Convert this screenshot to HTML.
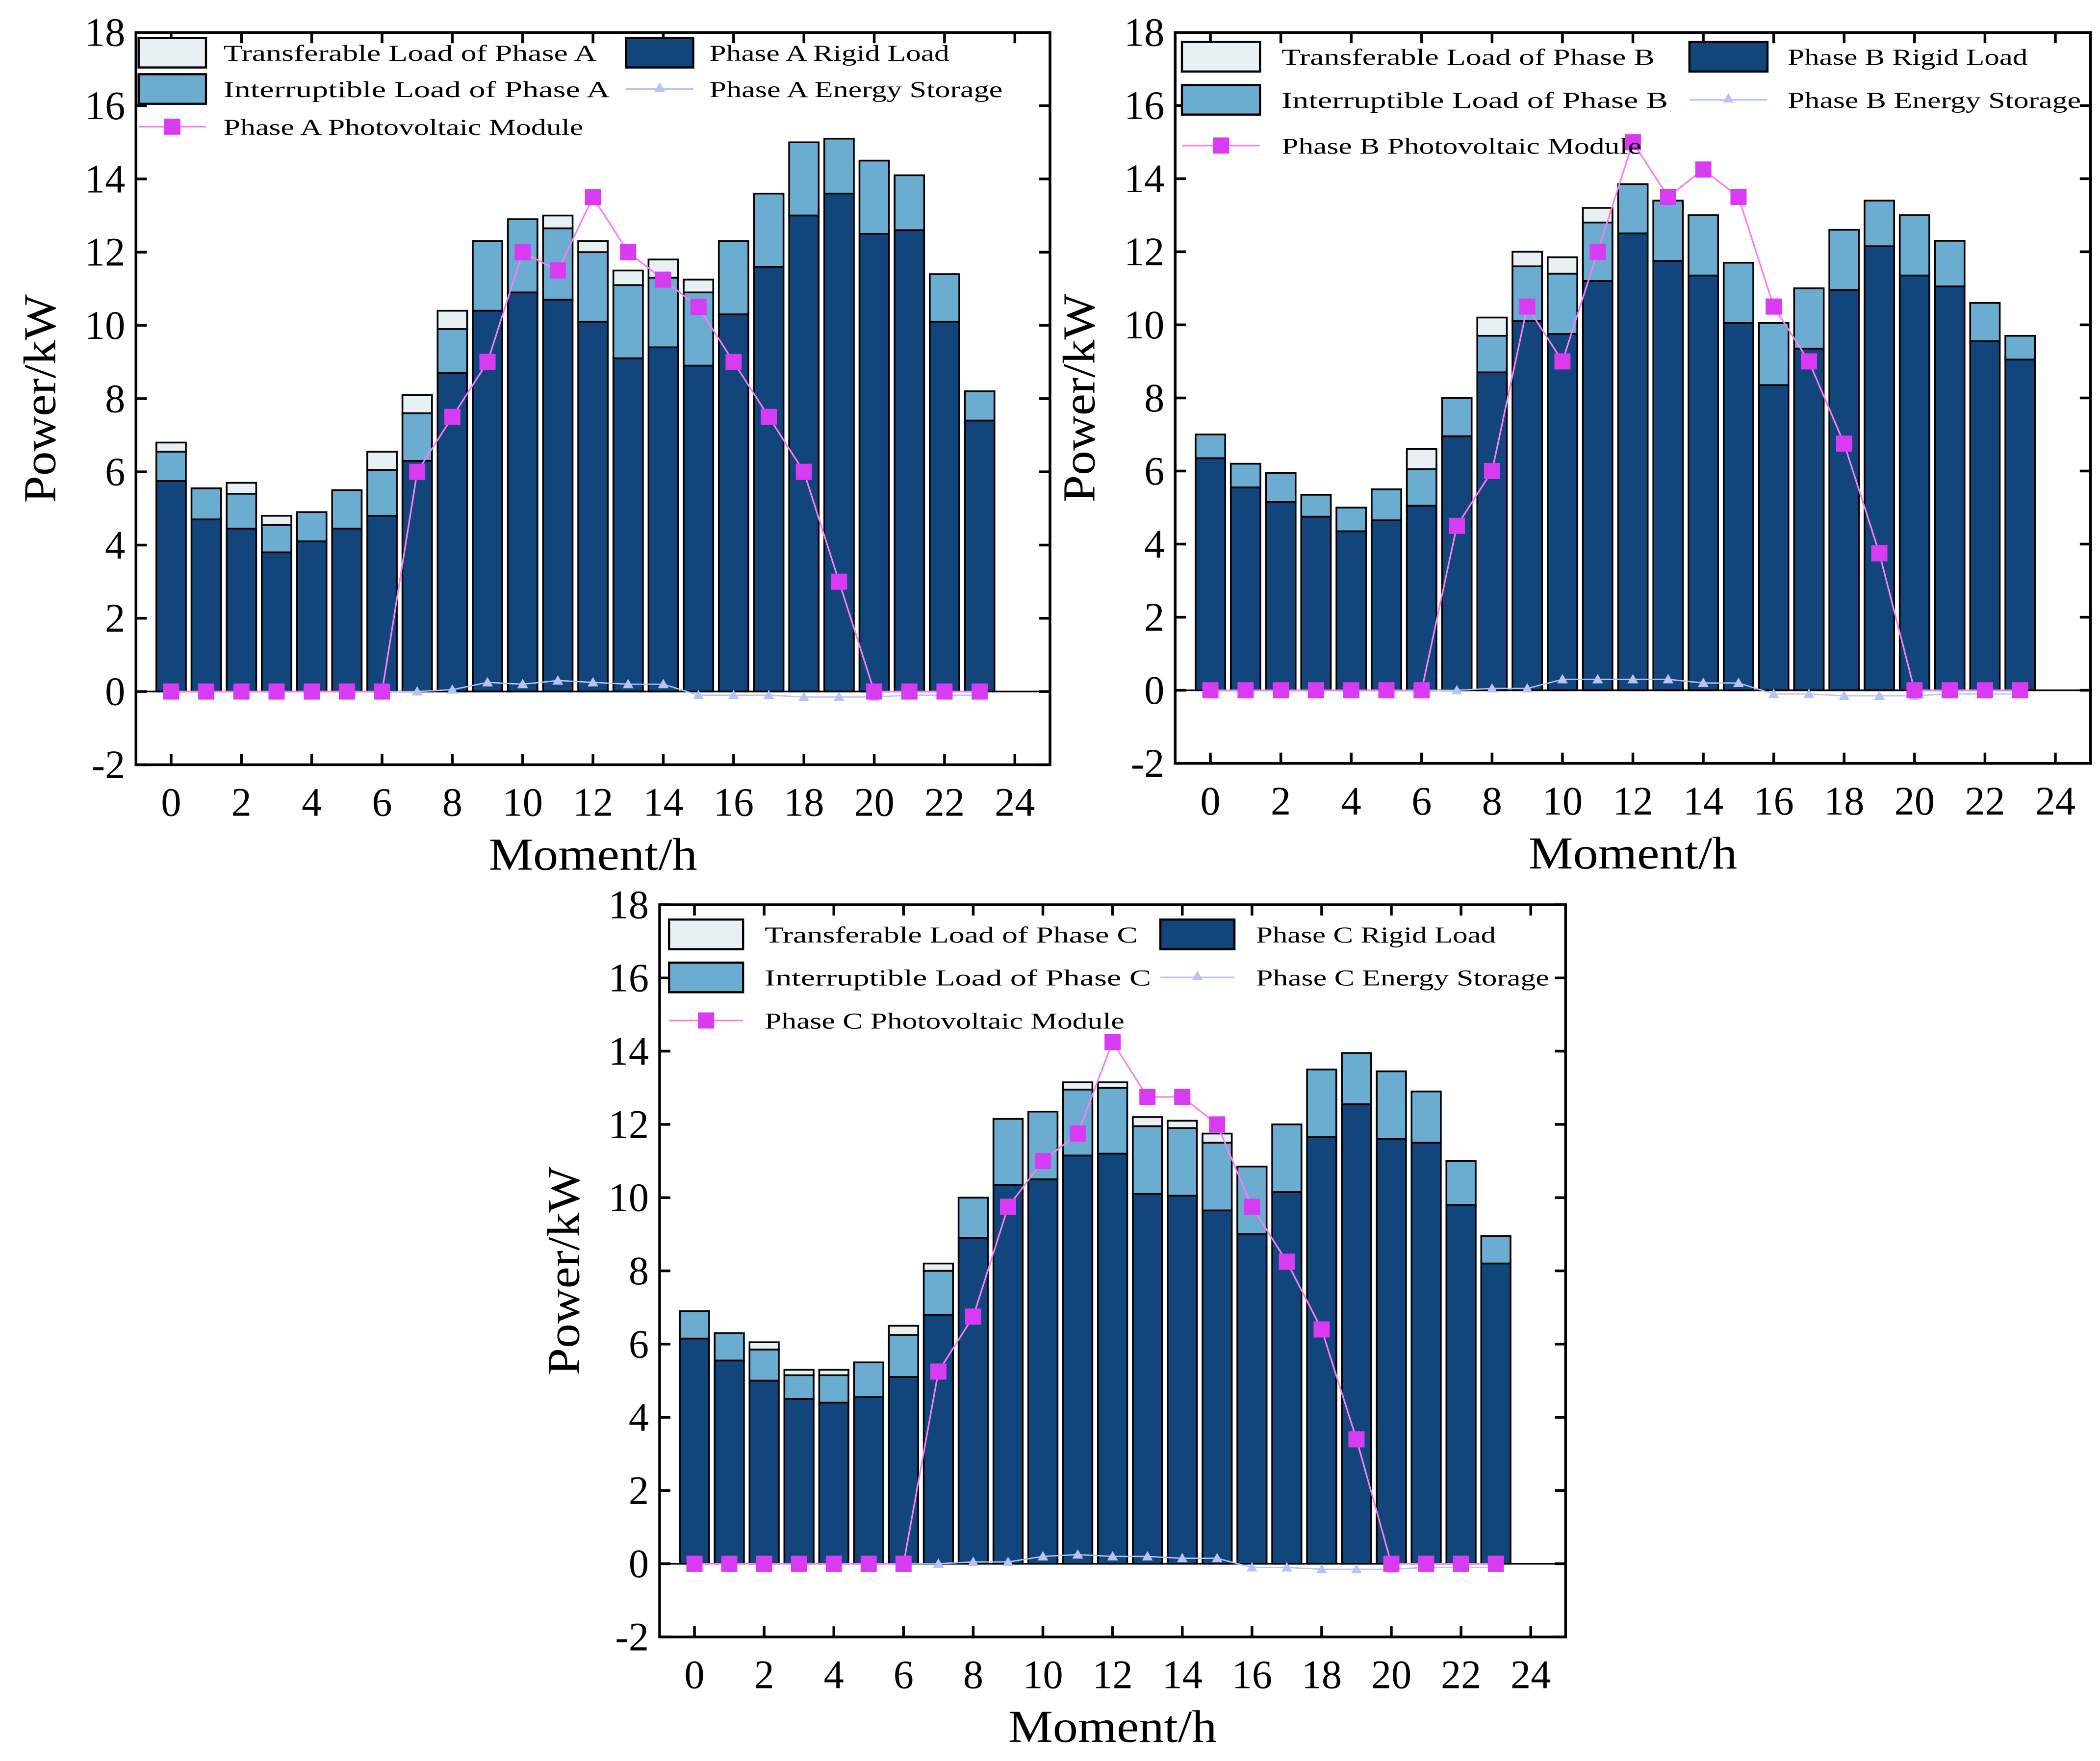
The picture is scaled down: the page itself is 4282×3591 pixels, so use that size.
<!DOCTYPE html>
<html><head><meta charset="utf-8"><style>
html,body{margin:0;padding:0;background:#fff}
svg{display:block}
text{font-family:"Liberation Serif","Noto Serif CJK SC",serif;fill:#000}
</style></head><body>
<svg id="root" xmlns="http://www.w3.org/2000/svg" width="4282" height="3591" viewBox="0 0 1560 1308"></svg>
<script>
const hours = [0,1,2,3,4,5,6,7,8,9,10,11,12,13,14,15,16,17,18,19,20,21,22,23];
const yTicks = [-2,0,2,4,6,8,10,12,14,16,18];
const xTicks = [0,2,4,6,8,10,12,14,16,18,20,22,24];
// Phase A
const rigidA = [5.75,4.7,4.45,3.8,4.1,4.45,4.8,6.3,8.7,10.4,10.9,10.7,10.1,9.1,9.4,8.9,10.3,11.6,13.0,13.6,12.5,12.6,10.1,7.4];
const interA = [6.55,5.55,5.4,4.55,4.9,5.5,6.05,7.6,9.9,12.3,12.9,12.65,12.0,11.1,11.3,10.9,12.3,13.6,15.0,15.1,14.5,14.1,11.4,8.2];
const totalA = [6.8,5.55,5.7,4.8,4.9,5.5,6.55,8.1,10.4,12.3,12.9,13.0,12.3,11.5,11.8,11.25,12.3,13.6,15.0,15.1,14.5,14.1,11.4,8.2];
const pvA = [0,0,0,0,0,0,0,6,7.5,9,12,11.5,13.5,12,11.25,10.5,9,7.5,6,3,0,0,0,0];
const storA = [0,0,0,0,0,0,0,0,0.05,0.25,0.2,0.3,0.25,0.2,0.2,-0.1,-0.1,-0.1,-0.15,-0.15,-0.15,-0.1,-0.1,-0.1];
// Phase B
const rigidB = [6.35,5.55,5.15,4.75,4.35,4.65,5.05,6.95,8.7,10.1,9.75,11.2,12.5,11.75,11.35,10.05,8.35,9.35,10.95,12.15,11.35,11.05,9.55,9.05];
const interB = [7.0,6.2,5.95,5.35,5.0,5.5,6.05,8.0,9.7,11.6,11.4,12.8,13.85,13.4,13.0,11.7,10.05,11.0,12.6,13.4,13.0,12.3,10.6,9.7];
const totalB = [7.0,6.2,5.95,5.35,5.0,5.5,6.6,8.0,10.2,12.0,11.85,13.2,13.85,13.4,13.0,11.7,10.05,11.0,12.6,13.4,13.0,12.3,10.6,9.7];
const pvB = [0,0,0,0,0,0,0,4.5,6,10.5,9,12,15,13.5,14.25,13.5,10.5,9,6.75,3.75,0,0,0,0];
const storB = [0,0,0,0,0,0,0,0,0.05,0.05,0.3,0.3,0.3,0.3,0.2,0.2,-0.1,-0.1,-0.15,-0.15,-0.15,-0.1,-0.1,-0.1];
// Phase C
const rigidC = [6.15,5.55,5.0,4.5,4.4,4.55,5.1,6.8,8.9,10.35,10.5,11.15,11.2,10.1,10.05,9.65,9.0,10.15,11.65,12.55,11.6,11.5,9.8,8.2];
const interC = [6.9,6.3,5.85,5.15,5.15,5.5,6.25,8.0,10.0,12.15,12.35,12.95,13.0,11.95,11.9,11.5,10.85,12.0,13.5,13.95,13.45,12.9,11.0,8.95];
const totalC = [6.9,6.3,6.05,5.3,5.3,5.5,6.5,8.2,10.0,12.15,12.35,13.15,13.15,12.2,12.1,11.75,10.85,12.0,13.5,13.95,13.45,12.9,11.0,8.95];
const pvC = [0,0,0,0,0,0,0,5.25,6.75,9.75,11,11.75,14.25,12.75,12.75,12,9.75,8.25,6.4,3.4,0,0,0,0];
const storC = [0,0,0,0,0,0,0,0,0.05,0.05,0.2,0.25,0.2,0.2,0.15,0.15,-0.1,-0.1,-0.15,-0.15,-0.15,-0.1,-0.1,-0.1];

const NS = "http://www.w3.org/2000/svg";
const root = document.getElementById('root');
function mk(tag, attrs, parent){const e=document.createElementNS(NS,tag);for(const k in attrs)e.setAttribute(k,attrs[k]);(parent||root).appendChild(e);return e;}

function chart(cfg){
  const g = mk('g',{});
  
  
  const L=cfg.left,R=cfg.right,T=cfg.top,B=cfg.bottom;
  const xs = v => L + (v+1)/26*(R-L);
  const ys = v => B - (v+2)/20*(B-T);
  const bw = (R-L)/26*0.84;
  hours.forEach((h,i)=>{
    const x = xs(h)-bw/2;
    const r1 = mk('rect',{x:x,y:ys(cfg.total[i]),width:bw,height:ys(cfg.inter[i])-ys(cfg.total[i]),fill:'#e8f0f3',stroke:'#000','stroke-width':1.3},g);
    
    
    const r2 = mk('rect',{x:x,y:ys(cfg.inter[i]),width:bw,height:ys(cfg.rigid[i])-ys(cfg.inter[i]),fill:'#6badd1',stroke:'#000','stroke-width':1.3},g);
    
    
    const r3 = mk('rect',{x:x,y:ys(cfg.rigid[i]),width:bw,height:ys(0)-ys(cfg.rigid[i]),fill:'#12457b',stroke:'#000','stroke-width':1.3},g);
    
    
  });
  mk('line',{x1:L,x2:R,y1:ys(0),y2:ys(0),stroke:'#000','stroke-width':1.2},g);
  const sl = mk('polyline',{points:hours.map((h,i)=>xs(h)+','+ys(cfg.stor[i])).join(' '),fill:'none',stroke:'#b8c2f4','stroke-width':1},g);
  
  
  hours.forEach((h,i)=>{
    const t=mk('path',{d:`M${xs(h)},${ys(cfg.stor[i])-4} l4,7 l-8,0 z`,fill:'#b8c2f4'},g);
    
    
  });
  const pl = mk('polyline',{points:hours.map((h,i)=>xs(h)+','+ys(cfg.pv[i])).join(' '),fill:'none',stroke:'#f77ff0','stroke-width':1.2},g);
  
  
  hours.forEach((h,i)=>{
    const s=mk('rect',{x:xs(h)-6,y:ys(cfg.pv[i])-6,width:12,height:12,fill:'#d93bf2'},g);
    
    
  });
  mk('rect',{x:L,y:T,width:R-L,height:B-T,fill:'none',stroke:'#000','stroke-width':2},g);
  yTicks.forEach(v=>{
    mk('line',{x1:L,x2:L+8,y1:ys(v),y2:ys(v),stroke:'#000','stroke-width':2},g);
    mk('line',{x1:R,x2:R-8,y1:ys(v),y2:ys(v),stroke:'#000','stroke-width':2},g);
    const t=mk('text',{x:L-8,y:ys(v)+10,'text-anchor':'end','font-size':30},g);
    t.textContent=v;
    
    
  });
  xTicks.forEach(v=>{
    mk('line',{x1:xs(v),x2:xs(v),y1:B,y2:B-8,stroke:'#000','stroke-width':2},g);
    mk('line',{x1:xs(v),x2:xs(v),y1:T,y2:T+8,stroke:'#000','stroke-width':2},g);
    const t=mk('text',{x:xs(v),y:B+38,'text-anchor':'middle','font-size':30},g);
    t.textContent=v;
    
    
  });
  const xt=mk('text',{x:(L+R)/2,y:B+78,'text-anchor':'middle','font-size':34,textLength:155,lengthAdjust:'spacingAndGlyphs'},g);
  xt.textContent='Moment/h';
  
  
  const cy=(T+B)/2;
  const yt=mk('text',{x:L-60,y:cy,'text-anchor':'middle','font-size':34,textLength:155,lengthAdjust:'spacingAndGlyphs',transform:`rotate(-90 ${L-60} ${cy})`},g);
  yt.textContent='Power/kW';
  
  
  const lg=cfg.leg, p=cfg.p;
  function ltext(x,y,s){const t=mk('text',{x:x,y:y+6,'font-size':17,textLength:s.length*9.9,lengthAdjust:'spacingAndGlyphs'},g);t.textContent=s;}
  function patch(x,y,w,fill){const r=mk('rect',{x:x,y:y-11,width:w,height:22,fill:fill,stroke:'#000','stroke-width':1.6},g);}
  const r0=T+lg.r[0],r1=T+lg.r[1],r2=T+lg.r[2];
  patch(L+lg.p1,r0,lg.pw,'#e8f0f3'); ltext(L+lg.t1,r0,'Transferable Load of Phase '+p);
  patch(L+lg.p1,r1,lg.pw,'#6badd1'); ltext(L+lg.t1,r1,'Interruptible Load of Phase '+p);
  mk('line',{x1:L+lg.p1,x2:L+lg.p1+lg.pw,y1:r2,y2:r2,stroke:'#f77ff0','stroke-width':1.2},g);
  mk('rect',{x:L+lg.p1+lg.pw/2-6,y:r2-6,width:12,height:12,fill:'#d93bf2'},g);
  ltext(L+lg.t1,r2,'Phase '+p+' Photovoltaic Module');
  patch(L+lg.p2,r0,lg.pw,'#12457b'); ltext(L+lg.t2,r0,'Phase '+p+' Rigid Load');
  mk('line',{x1:L+lg.p2,x2:L+lg.p2+lg.pw,y1:r1,y2:r1,stroke:'#b8c2f4','stroke-width':1.2},g);
  mk('path',{d:`M${L+lg.p2+lg.pw/2},${r1-5} l4,7 l-8,0 z`,fill:'#b8c2f4'},g);
  ltext(L+lg.t2,r1,'Phase '+p+' Energy Storage');
}
chart({p:'A',left:101,right:780,top:24,bottom:568,rigid:rigidA,inter:interA,total:totalA,pv:pvA,stor:storA,
  leg:{r:[15,42,70],p1:2,pw:50,t1:65,p2:364,t2:426}});
chart({p:'B',left:873,right:1553,top:24,bottom:567,rigid:rigidB,inter:interB,total:totalB,pv:pvB,stor:storB,
  leg:{r:[18,50,84],p1:5,pw:58,t1:79,p2:382,t2:455}});
chart({p:'C',left:490,right:1163,top:672,bottom:1216,rigid:rigidC,inter:interC,total:totalC,pv:pvC,stor:storC,
  leg:{r:[22,54,86],p1:7,pw:55,t1:78,p2:372,t2:443}});
</script>
</body></html>
